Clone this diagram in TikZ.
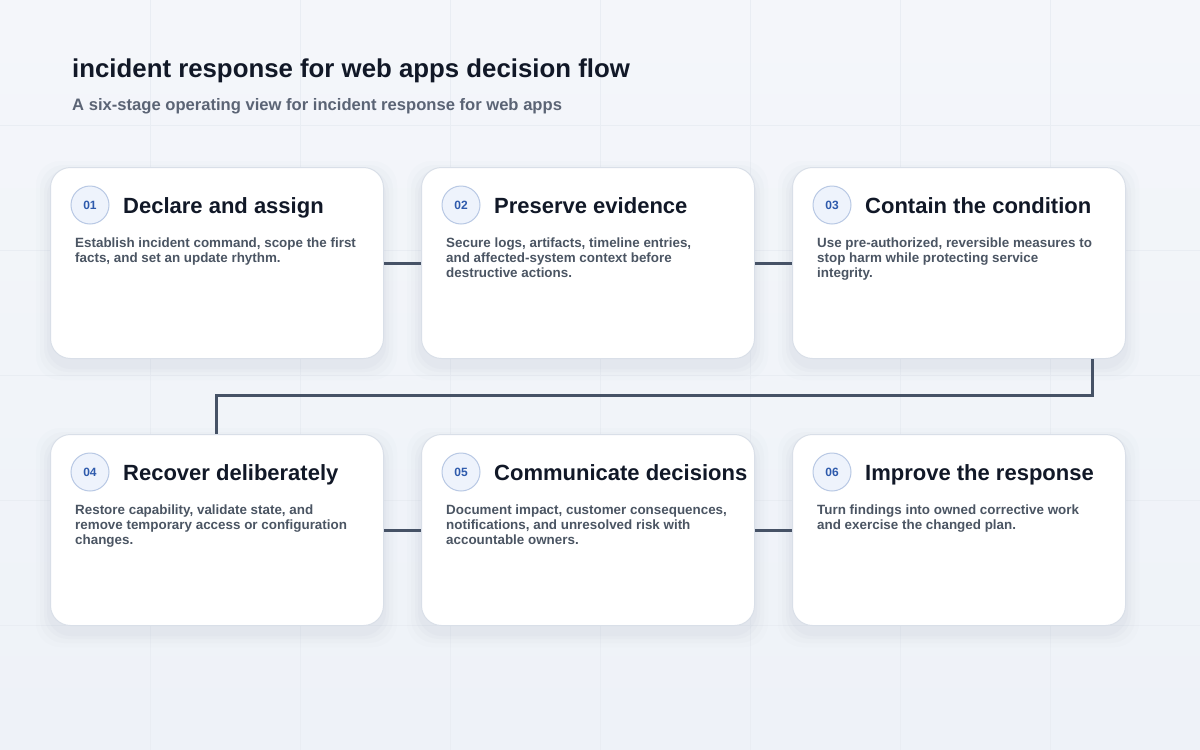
\documentclass[tikz,border=0pt]{standalone}
\usepackage{fontspec}
\setmainfont{Liberation Sans}
\usetikzlibrary{calc}
\definecolor{bgc}{HTML}{F4F6FA}
\definecolor{bgc2}{HTML}{EEF2F8}
\definecolor{gridc}{HTML}{E9EDF3}
\definecolor{cardborder}{HTML}{D9DFE8}
\definecolor{titlec}{HTML}{111827}
\definecolor{subc}{HTML}{5B6475}
\definecolor{bodyc}{HTML}{4B5563}
\definecolor{linkc}{HTML}{465266}
\definecolor{badgefill}{HTML}{EEF3FC}
\definecolor{badgeline}{HTML}{B8C8E4}
\definecolor{badgetext}{HTML}{2E5AAC}
\definecolor{shadowc}{HTML}{9AA6BA}
\tikzset{
  card/.style={draw=cardborder, line width=1pt, fill=white, rounded corners=20pt,
    minimum width=333pt, minimum height=191pt, inner sep=0pt, anchor=north west},
  badge/.style={circle, draw=badgeline, line width=1pt, fill=badgefill, minimum size=38pt,
    inner sep=0pt, text=badgetext, font=\bfseries\fontsize{12}{14}\selectfont},
  cardtitle/.style={anchor=base west, inner sep=0pt, text=titlec, font=\bfseries\fontsize{22}{26}\selectfont},
  cardbody/.style={anchor=base west, inner sep=0pt, text=bodyc,
    font=\bfseries\fontsize{13.4}{15}\selectfont},
  link/.style={draw=linkc, line width=3pt},
}
\newcommand{\cardshadow}[2]{%
  \foreach \s/\o in {14/0.025,10/0.035,6/0.045,3/0.05}{
    \fill[shadowc, opacity=\o, rounded corners=24pt] (#1-\s,#2-\s+8) rectangle (#1+333+\s,#2+191+\s+8);
  }}
\newcommand{\stagecard}[6]{% name, x, y, num, title, body
  \cardshadow{#2}{#3}
  \node[card] (#1) at (#2,#3) {};
  \node[badge] (#1b) at (#2+40,#3+38) {#4};
  \node[cardtitle] (#1t) at (#2+73,#3+46) {#5};
  \node[cardbody] (#1d) at (#2+25,#3+80) {\begin{tabular}[t]{@{}l@{}}#6\end{tabular}};
}
\begin{document}
\begin{tikzpicture}[x=1pt,y=-1pt]
\useasboundingbox (0,0) rectangle (1200,750);
\shade[top color=bgc, bottom color=bgc2] (0,0) rectangle (1200,750);
\foreach \gx in {150,300,...,1050} \draw[gridc, line width=0.8pt] (\gx,0) -- (\gx,750);
\foreach \gy in {125,250,...,625} \draw[gridc, line width=0.8pt] (0,\gy) -- (1200,\gy);

\node[anchor=base west, inner sep=0pt, text=titlec, font=\bfseries\fontsize{25.8}{30}\selectfont] (title) at (72,77) {incident response for web apps decision flow};
\node[anchor=base west, inner sep=0pt, text=subc, font=\bfseries\fontsize{16.6}{20}\selectfont] (subtitle) at (72,110) {A six-stage operating view for incident response for web apps};

\stagecard{c1}{50}{167}{01}{Declare and assign}{Establish incident command, scope the first\\facts, and set an update rhythm.}
\stagecard{c2}{421}{167}{02}{Preserve evidence}{Secure logs, artifacts, timeline entries,\\and affected-system context before\\destructive actions.}
\stagecard{c3}{792}{167}{03}{Contain the condition}{Use pre-authorized, reversible measures to\\stop harm while protecting service\\integrity.}
\stagecard{c4}{50}{434}{04}{Recover deliberately}{Restore capability, validate state, and\\remove temporary access or configuration\\changes.}
\stagecard{c5}{421}{434}{05}{Communicate decisions}{Document impact, customer consequences,\\notifications, and unresolved risk with\\accountable owners.}
\stagecard{c6}{792}{434}{06}{Improve the response}{Turn findings into owned corrective work\\and exercise the changed plan.}

\draw[link] (c1.east) -- (c2.west);
\draw[link] (c2.east) -- (c3.west);
\draw[link] (c4.east) -- (c5.west);
\draw[link] (c5.east) -- (c6.west);
\coordinate (out3) at ([xshift=-34pt]c3.south east);
\coordinate (in4) at ([xshift=166pt]c4.north west);
\coordinate (turn) at (0,395);
\draw[link] (out3) |- (turn -| in4) -- (in4);
\end{tikzpicture}
\end{document}
